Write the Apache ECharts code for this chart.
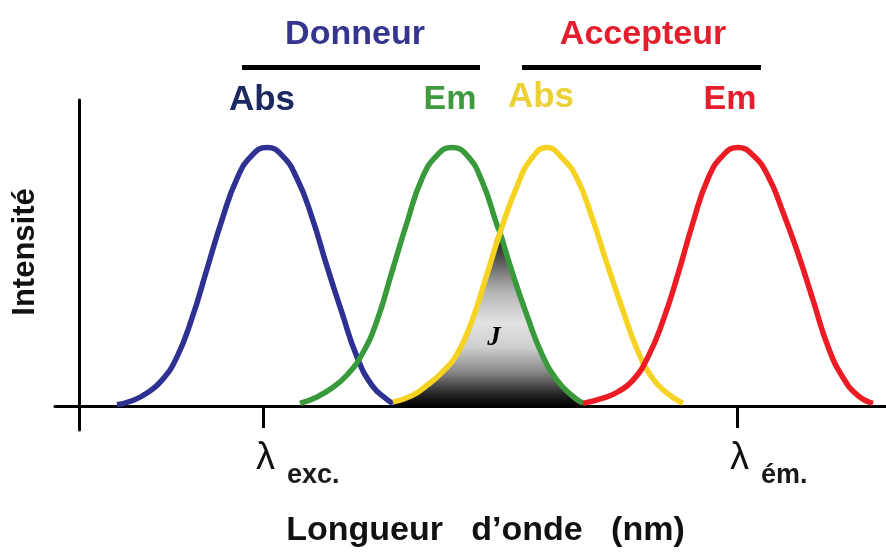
<!DOCTYPE html>
<html>
<head>
<meta charset="utf-8">
<script src="https://cdn.jsdelivr.net/npm/echarts@6/dist/echarts.min.js"></script>
<style>
html,body{margin:0;padding:0;background:#fff;}
#chart{width:886px;height:553px;}
</style>
</head>
<body>
<div id="chart"></div>
<script>
// Wavelength positions (arbitrary units) and intensities (% of peak)
const donorAbsX   = [38, 53, 68, 83, 98, 113, 128, 143, 158, 173, 188, 203, 218, 233, 248, 263, 278, 293, 308, 314];
const donorAbsY   = [0.5, 2, 5, 10, 19, 34, 53, 72, 88, 97, 100, 97, 88, 73, 54, 36, 19, 8, 2.5, 1];
const donorEmX    = [221, 238, 253, 268, 283, 298, 313, 328, 343, 358, 373, 388, 403, 418, 421, 433, 448, 463, 478, 493, 504];
const donorEmY    = [1, 3.5, 7, 12, 20, 33, 52, 71, 88, 97, 100, 97, 87, 70, 67, 52, 35, 20, 10, 4, 1];
const accAbsX     = [314, 333, 348, 363, 378, 393, 408, 421, 438, 453, 468, 483, 498, 513, 528, 543, 558, 573, 588, 604];
const accAbsY     = [1.5, 4, 8, 13, 20, 33, 51, 67, 85, 96, 100, 96, 88, 73, 55, 38, 22, 11, 5, 1];
const accEmX      = [504, 524, 539, 554, 569, 584, 599, 614, 629, 644, 659, 674, 689, 704, 719, 734, 749, 764, 779, 794];
const accEmY      = [1, 3, 5.5, 10, 19, 33, 51, 71, 88, 97, 100, 97, 89, 75, 59, 41, 23, 11, 4, 1];
const crossX      = 421;               // where donor emission meets acceptor absorption
const tickValues  = [184, 658];        // λ exc. and λ ém.
const tickSubs    = ['exc.', 'ém.'];
const groupLabels = ['Donneur', 'Accepteur'];
const curveLabels = ['Abs', 'Em', 'Abs', 'Em'];

const pairs = (xs, ys) => xs.map((x, i) => [x, ys[i]]);
// overlap J: acceptor absorption left of the crossing, donor emission right of it
const overlap = pairs(accAbsX, accAbsY).filter(p => p[0] <= crossX)
  .concat(pairs(donorEmX, donorEmY).filter(p => p[0] > crossX));

const chart = echarts.init(document.getElementById('chart'), null, {renderer: 'canvas'});
const SM = 0.5;
const lineSeries = (name, data, color) => ({
  name, type: 'line', data, smooth: SM, symbol: 'none', silent: true,
  lineStyle: {color, width: 5.5}, z: 3
});

chart.setOption({
  animation: false,
  backgroundColor: '#ffffff',
  grid: {left: 55, right: 0, top: 100, bottom: 123, outerBoundsMode: 'none', containLabel: false},
  xAxis: {
    type: 'value', min: -24, max: 807,
    splitLine: {show: false},
    axisLine: {onZero: true, lineStyle: {color: '#000', width: 3}},
    axisTick: {show: true, customValues: tickValues, length: 22, lineStyle: {color: '#000', width: 3}},
    axisLabel: {
      show: true, customValues: tickValues, margin: 10, align: 'left', padding: [0, 0, 0, -7],
      formatter: v => '{l|λ}{s|' + tickSubs[tickValues.indexOf(v)] + '}',
      rich: {
        l: {fontSize: 38, fontFamily: 'Liberation Sans', color: '#111', lineHeight: 38, verticalAlign: 'top'},
        s: {fontSize: 27, fontWeight: 'bold', fontFamily: 'Liberation Sans', color: '#1a1a1a', padding: [22, 0, 0, 12], verticalAlign: 'top'}
      }
    },
    name: 'Longueur   d\u2019onde   (nm)',
    nameLocation: 'middle', nameGap: 84,
    nameTextStyle: {fontSize: 34, fontWeight: 'bold', fontFamily: 'Liberation Sans', color: '#111', padding: [0, 0, 0, 30]}
  },
  yAxis: {
    type: 'value', min: -9.3, max: 118.4,
    splitLine: {show: false},
    axisLine: {onZero: true, lineStyle: {color: '#000', width: 3}},
    axisTick: {show: false},
    axisLabel: {show: false},
    name: 'Intensité',
    nameLocation: 'middle', nameGap: 14,
    nameTextStyle: {fontSize: 31, fontWeight: 'bold', fontFamily: 'Liberation Sans', color: '#111', padding: [0, 0, 0, 26]}
  },
  series: [
    {
      name: 'J', type: 'line', data: overlap, smooth: SM, symbol: 'none', silent: true, z: 2,
      lineStyle: {width: 0},
      areaStyle: {
        opacity: 1,
        color: new echarts.graphic.LinearGradient(0, 0, 0, 1, [
          {offset: 0, color: '#111'},
          {offset: 0.15, color: '#555'},
          {offset: 0.34, color: '#b4b4b4'},
          {offset: 0.52, color: '#e2e2e2'},
          {offset: 0.66, color: '#cfcfcf'},
          {offset: 0.8, color: '#8a8a8a'},
          {offset: 0.93, color: '#262626'},
          {offset: 1, color: '#000'}
        ])
      }
    },
    lineSeries('Donneur Abs', pairs(donorAbsX, donorAbsY), '#2e3192'),
    lineSeries('Donneur Em', pairs(donorEmX, donorEmY), '#389a3a'),
    lineSeries('Accepteur Abs', pairs(accAbsX, accAbsY), '#f6d323'),
    lineSeries('Accepteur Em', pairs(accEmX, accEmY), '#ec1c24')
  ],
  graphic: [
    {type: 'text', x: 355, y: 35, style: {text: groupLabels[0], fill: '#35358f', font: 'bold 34px "Liberation Sans"', textAlign: 'center', textVerticalAlign: 'middle'}},
    {type: 'text', x: 643, y: 35, style: {text: groupLabels[1], fill: '#e41e2c', font: 'bold 34px "Liberation Sans"', textAlign: 'center', textVerticalAlign: 'middle'}},
    {type: 'line', shape: {x1: 242, y1: 67.5, x2: 480, y2: 67.5}, style: {stroke: '#000', lineWidth: 5}},
    {type: 'line', shape: {x1: 522, y1: 67.5, x2: 761, y2: 67.5}, style: {stroke: '#000', lineWidth: 5}},
    {type: 'text', x: 262, y: 100, style: {text: curveLabels[0], fill: '#1d2a62', font: 'bold 35px "Liberation Sans"', textAlign: 'center', textVerticalAlign: 'middle'}},
    {type: 'text', x: 450, y: 100, style: {text: curveLabels[1], fill: '#3f9a3f', font: 'bold 34px "Liberation Sans"', textAlign: 'center', textVerticalAlign: 'middle'}},
    {type: 'text', x: 541, y: 97, style: {text: curveLabels[2], fill: '#ebd136', font: 'bold 35px "Liberation Sans"', textAlign: 'center', textVerticalAlign: 'middle'}},
    {type: 'text', x: 730, y: 100, style: {text: curveLabels[3], fill: '#e41e2c', font: 'bold 34px "Liberation Sans"', textAlign: 'center', textVerticalAlign: 'middle'}},
    {type: 'text', x: 494, y: 338, z: 10, style: {text: 'J', fill: '#000', font: 'italic bold 27px "Liberation Serif"', textAlign: 'center', textVerticalAlign: 'middle'}}
  ]
});
</script>
</body>
</html>
